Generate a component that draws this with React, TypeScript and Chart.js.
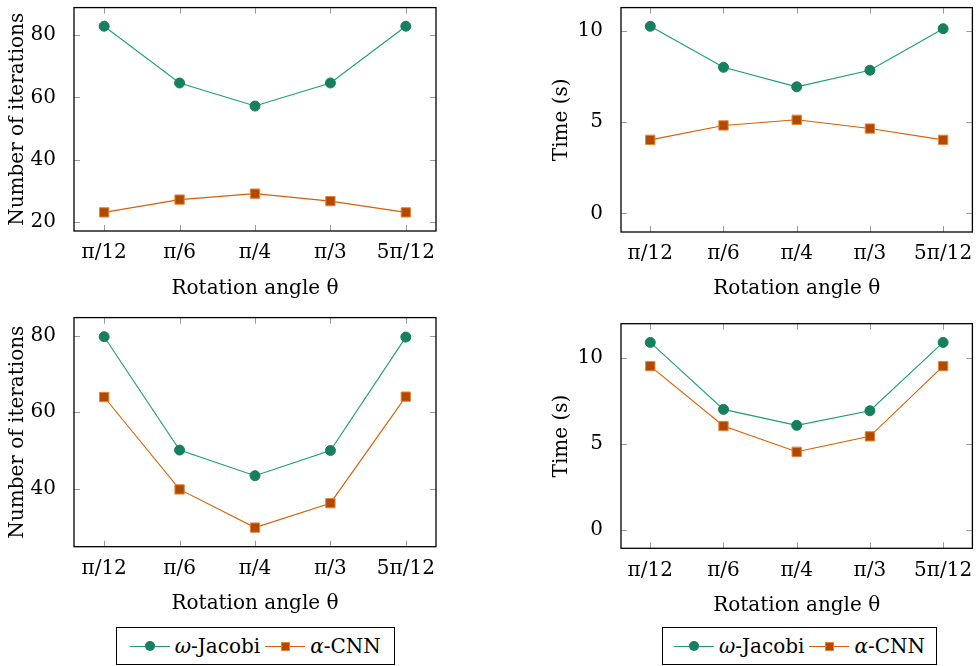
import React, { useEffect, useRef } from "react";
import { Chart, registerables } from "chart.js";

Chart.register(...registerables);

// ---------- data ----------
const angleLabels = ["π/12", "π/6", "π/4", "π/3", "5π/12"];

const iterJacobiTop = [82.8, 64.6, 57.2, 64.6, 82.8];
const iterCnnTop = [23.1, 27.2, 29.1, 26.7, 23.1];
const timeJacobiTop = [10.26, 8.01, 6.94, 7.85, 10.13];
const timeCnnTop = [4.03, 4.82, 5.13, 4.65, 4.03];

const iterJacobiBottom = [79.8, 50.1, 43.4, 50.0, 79.7];
const iterCnnBottom = [64.0, 39.8, 29.8, 36.2, 64.1];
const timeJacobiBottom = [10.9, 7.0, 6.07, 6.92, 10.9];
const timeCnnBottom = [9.52, 6.03, 4.53, 5.43, 9.52];

const iterTicksTop = [20, 40, 60, 80];
const iterTicksBottom = [40, 60, 80];
const timeTicks = [0, 5, 10];

const seriesNames = ["ω-Jacobi", "α-CNN"];

// ---------- styles ----------
const FONT = "'DejaVu Serif', 'Liberation Serif', serif";
const FS = 20;
const GREEN_LINE = "#1b9e77";
const GREEN_FILL = "#157f60";
const ORANGE_LINE = "#d95f02";
const ORANGE_FILL = "#b04a00";
const ORANGE_EDGE = "#e8843a";

type Layout = {
  left: number;
  top: number;
  w: number;
  h: number;
  l: number;
  r: number;
  t: number;
  b: number;
  yTitleX: number;
  xTitleY: number;
};

function enlarge(values: number[], forcedMin?: number) {
  const lo = forcedMin !== undefined ? forcedMin : Math.min(...values);
  const hi = Math.max(...values);
  const pad = (hi - lo) * 0.1;
  return { min: lo - pad, max: hi + pad };
}

const boxPlugin = {
  id: "pgfBox",
  beforeDatasetsDraw(chart: any) {
    const { ctx, chartArea: a, scales } = chart;
    ctx.save();
    ctx.strokeStyle = "#9a9a9a";
    ctx.lineWidth = 1;
    const tl = 6;
    ctx.beginPath();
    scales.y.ticks.forEach((t: any) => {
      const y = Math.round(scales.y.getPixelForValue(t.value)) + 0.5;
      ctx.moveTo(a.left, y);
      ctx.lineTo(a.left + tl, y);
      ctx.moveTo(a.right, y);
      ctx.lineTo(a.right - tl, y);
    });
    scales.x.ticks.forEach((t: any) => {
      const x = Math.round(scales.x.getPixelForValue(t.value)) + 0.5;
      ctx.moveTo(x, a.bottom);
      ctx.lineTo(x, a.bottom - tl);
      ctx.moveTo(x, a.top);
      ctx.lineTo(x, a.top + tl);
    });
    ctx.stroke();
    ctx.strokeStyle = "#000";
    ctx.lineWidth = 1.3;
    ctx.strokeRect(a.left, a.top, a.right - a.left, a.bottom - a.top);
    ctx.restore();
  },
};

function LineChart(props: {
  layout: Layout;
  jacobi: number[];
  cnn: number[];
  yTicks: number[];
  yTitle: string;
  forcedMin?: number;
}) {
  const ref = useRef<HTMLCanvasElement | null>(null);
  const { layout: L, jacobi, cnn, yTicks, yTitle, forcedMin } = props;

  useEffect(() => {
    if (!ref.current) return;
    const range = enlarge([...jacobi, ...cnn], forcedMin);
    const lineH = 1.2;
    const half = (FS * lineH) / 2;
    const chart = new Chart(ref.current, {
      type: "line",
      data: {
        datasets: [
          {
            label: seriesNames[0],
            data: jacobi.map((v, i) => ({ x: i, y: v })),
            borderColor: GREEN_LINE,
            borderWidth: 1.1,
            pointStyle: "circle",
            pointRadius: 5,
            pointBackgroundColor: GREEN_FILL,
            pointBorderColor: GREEN_FILL,
            pointBorderWidth: 1,
            tension: 0,
          },
          {
            label: seriesNames[1],
            data: cnn.map((v, i) => ({ x: i, y: v })),
            borderColor: ORANGE_LINE,
            borderWidth: 1.1,
            pointStyle: "rect",
            pointRadius: 6.6,
            pointBackgroundColor: ORANGE_FILL,
            pointBorderColor: ORANGE_EDGE,
            pointBorderWidth: 1,
            tension: 0,
          },
        ],
      },
      options: {
        animation: false,
        responsive: false,
        events: [],
        layout: {
          padding: { left: 0, top: L.t, right: L.w - L.r, bottom: 0 },
        },
        plugins: { legend: { display: false }, tooltip: { enabled: false } },
        scales: {
          x: {
            type: "linear",
            min: -0.4,
            max: angleLabels.length - 1 + 0.4,
            grid: { display: false },
            border: { display: false },
            afterBuildTicks: (s: any) => {
              s.ticks = angleLabels.map((_, i) => ({ value: i }));
            },
            afterFit: (s: any) => {
              s.height = L.h - L.b;
              s.paddingLeft = 0;
              s.paddingRight = 0;
            },
            ticks: {
              autoSkip: false,
              maxRotation: 0,
              padding: 2,
              color: "#000",
              font: { family: FONT, size: FS, lineHeight: lineH },
              callback: (v: any) => angleLabels[Math.round(Number(v))] ?? "",
            },
            title: {
              display: true,
              text: "Rotation angle θ",
              color: "#000",
              font: { family: FONT, size: FS, lineHeight: lineH },
              padding: { top: 0, bottom: L.h - L.xTitleY - half - 1 },
            },
          },
          y: {
            type: "linear",
            min: range.min,
            max: range.max,
            grid: { display: false },
            border: { display: false },
            afterBuildTicks: (s: any) => {
              s.ticks = yTicks.map((v) => ({ value: v }));
            },
            afterFit: (s: any) => {
              s.width = L.l;
              s.paddingTop = 0;
              s.paddingBottom = 0;
            },
            ticks: {
              padding: 10,
              color: "#000",
              font: { family: FONT, size: FS, lineHeight: lineH },
              callback: (v: any) => String(v),
            },
            title: {
              display: true,
              text: yTitle,
              color: "#000",
              font: { family: FONT, size: FS, lineHeight: lineH },
              padding: { top: L.yTitleX - half, bottom: 0 },
            },
          },
        },
      },
      plugins: [boxPlugin],
    } as any);
    return () => chart.destroy();
  }, []);

  return (
    <canvas
      ref={ref}
      width={L.w}
      height={L.h}
      style={{ position: "absolute", left: L.left, top: L.top, width: L.w, height: L.h }}
    />
  );
}

function Legend(props: { left: number; top: number; width: number }) {
  const seg = (color: string, marker: React.ReactNode) => (
    <span style={{ position: "relative", display: "inline-block", width: 40, height: 20, marginRight: 5 }}>
      <span style={{ position: "absolute", left: 0, right: 0, top: 9.5, height: 1, background: color }} />
      {marker}
    </span>
  );
  return (
    <div
      style={{
        position: "absolute",
        left: props.left,
        top: props.top,
        width: props.width,
        height: 38,
        boxSizing: "border-box",
        border: "1.3px solid #000",
        display: "flex",
        alignItems: "center",
        justifyContent: "center",
        fontFamily: FONT,
        fontSize: FS,
        color: "#000",
        whiteSpace: "nowrap",
      }}
    >
      {seg(
        GREEN_LINE,
        <span
          style={{
            position: "absolute",
            left: 15,
            top: 5,
            width: 10,
            height: 10,
            borderRadius: "50%",
            background: GREEN_FILL,
          }}
        />
      )}
      <span style={{ marginRight: 5 }}>
        <i>ω</i>-Jacobi
      </span>
      {seg(
        ORANGE_LINE,
        <span
          style={{
            position: "absolute",
            left: 15.5,
            top: 5.5,
            width: 9,
            height: 9,
            boxSizing: "border-box",
            border: `1px solid ${ORANGE_EDGE}`,
            background: ORANGE_FILL,
          }}
        />
      )}
      <span>
        <i>α</i>-CNN
      </span>
    </div>
  );
}

const layoutTL: Layout = { left: 0, top: 0, w: 445, h: 310, l: 74, r: 436, t: 3, b: 231, yTitleX: 18, xTitleY: 288 };
const layoutTR: Layout = { left: 540, top: 0, w: 440, h: 310, l: 81, r: 437.3, t: 7, b: 232, yTitleX: 22, xTitleY: 288 };
const layoutBL: Layout = { left: 0, top: 310, w: 445, h: 310, l: 74, r: 436, t: 7.3, b: 236.7, yTitleX: 18, xTitleY: 293 };
const layoutBR: Layout = { left: 540, top: 310, w: 440, h: 310, l: 81, r: 437.3, t: 13.7, b: 238.3, yTitleX: 22, xTitleY: 295 };

export default function App() {
  return (
    <div style={{ position: "absolute", left: 0, top: 0, width: 980, height: 666, background: "#fff", overflow: "hidden" }}>
      <LineChart layout={layoutTL} jacobi={iterJacobiTop} cnn={iterCnnTop} yTicks={iterTicksTop} yTitle="Number of iterations" />
      <LineChart layout={layoutTR} jacobi={timeJacobiTop} cnn={timeCnnTop} yTicks={timeTicks} yTitle="Time (s)" forcedMin={0} />
      <LineChart layout={layoutBL} jacobi={iterJacobiBottom} cnn={iterCnnBottom} yTicks={iterTicksBottom} yTitle="Number of iterations" />
      <LineChart layout={layoutBR} jacobi={timeJacobiBottom} cnn={timeCnnBottom} yTicks={timeTicks} yTitle="Time (s)" forcedMin={0} />
      <Legend left={115.7} top={627} width={279} />
      <Legend left={662.3} top={627} width={274.4} />
    </div>
  );
}
